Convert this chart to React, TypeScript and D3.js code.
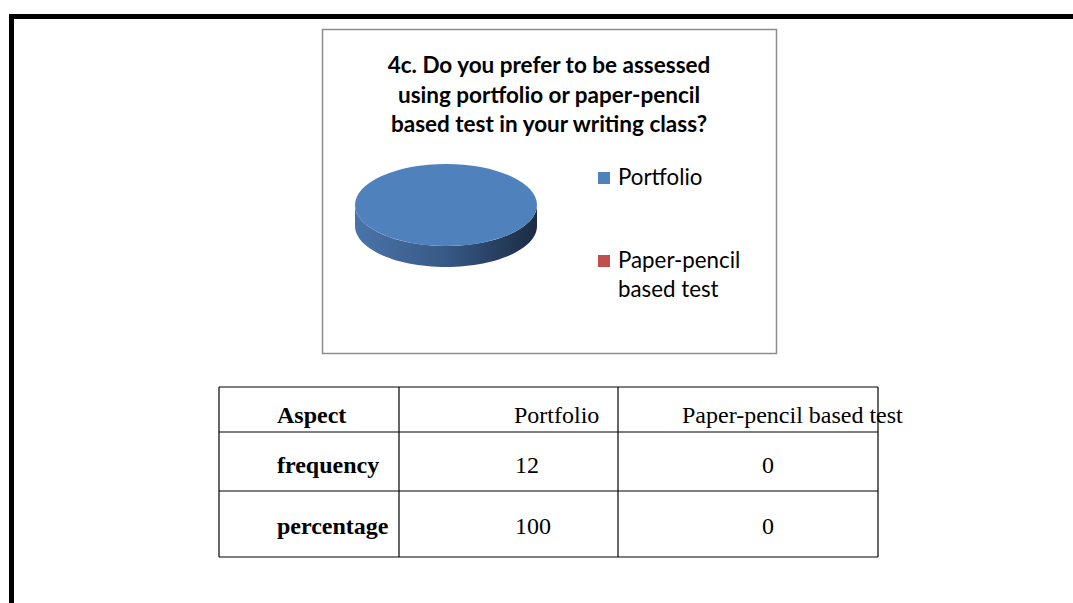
import React from "react";
import * as d3 from "d3";

const categories = ["Portfolio", "Paper-pencil based test"];
const frequency = [12, 0];
const percentage = [100, 0];
const titleLines = [
  "4c. Do you prefer to be assessed",
  "using portfolio or paper-pencil",
  "based test in your writing class?",
];
const legendLines = [["Portfolio"], ["Paper-pencil", "based test"]];
const tableHeader = ["Aspect", ...categories];
const tableRows = [
  ["frequency", ...frequency.map(String)],
  ["percentage", ...percentage.map(String)],
];

const colors = ["#4f81bd", "#c0504d"];

function Pie3D() {
  const cx = 446, cy = 205, rx = 91, ry = 41, depth = 21;
  const arcs = d3.pie<number>().sort(null)(frequency);
  const arcGen = d3.arc<d3.PieArcDatum<number>>().innerRadius(0).outerRadius(1);

  // only the front half of the rim is visible
  const pt = (a: number) => [cx + rx * Math.sin(a), cy - ry * Math.cos(a)];
  const sides = arcs.map((a, i) => {
    const s = Math.max(a.startAngle, Math.PI / 2);
    const e = Math.min(a.endAngle, (3 * Math.PI) / 2);
    if (e <= s) return null;
    const steps = 60;
    const top = d3.range(steps + 1).map((k) => pt(s + ((e - s) * k) / steps));
    const bottom = top.map(([x, y]) => [x, y + depth]).reverse();
    return { i, d: d3.line()([...top, ...bottom] as [number, number][]) + "Z" };
  });

  return (
    <g>
      <defs>
        <linearGradient id="side0" x1="0" x2="1" y1="0" y2="0">
          <stop offset="0" stopColor="#4a74a9" />
          <stop offset="0.5" stopColor="#375985" />
          <stop offset="1" stopColor="#1b2b44" />
        </linearGradient>
        <linearGradient id="side1" x1="0" x2="1" y1="0" y2="0">
          <stop offset="0" stopColor="#b04a47" />
          <stop offset="1" stopColor="#5e2322" />
        </linearGradient>
      </defs>
      {sides.map((s) =>
        s ? <path key={"s" + s.i} d={s.d} fill={`url(#side${s.i})`} /> : null
      )}
      {arcs.map((a, i) =>
        a.endAngle > a.startAngle ? (
          <path
            key={i}
            d={arcGen(a) || ""}
            transform={`translate(${cx},${cy}) scale(${rx},${ry})`}
            fill={colors[i]}
          />
        ) : null
      )}
    </g>
  );
}

export default function App() {
  const colEdges = [219, 399, 618, 878];
  const rowEdges = [387, 432, 491, 557];
  const textX = [277, 514, 682];
  const rowBase = [423, 473, 534];
  const cellAnchor = ["start", "start", "middle"];
  const cellX = [277, 515, 768];

  return (
    <svg
      width={1073}
      height={603}
      style={{ position: "fixed", left: 0, top: 0, background: "#fff" }}
    >
      <path d="M11.5,603 V16.5 H1073" fill="none" stroke="#000" strokeWidth={5} />
      <rect x={322.5} y={29.5} width={454} height={324} fill="#fff" stroke="#8c8c8c" strokeWidth={1.5} />
      {titleLines.map((t, i) => (
        <text
          key={i}
          x={549}
          y={73 + i * 29.5}
          textAnchor="middle"
          fontFamily="Lato, 'Open Sans', sans-serif"
          fontWeight="bold"
          fontSize={22.5}
          fill="#000"
        >
          {t}
        </text>
      ))}
      <Pie3D />
      {legendLines.map((lines, i) => {
        const y0 = [185, 268][i];
        return (
          <g key={i}>
            <rect x={598} y={y0 - 13} width={12} height={12} fill={colors[i]} />
            {lines.map((l, j) => (
              <text key={j} x={618} y={y0 + j * 29} fontFamily="Lato, sans-serif" fontSize={22.3} fill="#000">
                {l}
              </text>
            ))}
          </g>
        );
      })}
      <g stroke="#000" strokeWidth={1.2}>
        {colEdges.map((x) => (
          <line key={"c" + x} x1={x} x2={x} y1={387} y2={557} />
        ))}
        {rowEdges.map((y) => (
          <line key={"r" + y} x1={219} x2={878} y1={y} y2={y} />
        ))}
      </g>
      <g fontFamily="'Liberation Serif', 'Times New Roman', serif" fontSize={24} fill="#000">
        {tableHeader.map((h, i) => (
          <text key={h} x={textX[i]} y={rowBase[0]} fontWeight={i === 0 ? "bold" : "normal"}>
            {h}
          </text>
        ))}
        {tableRows.map((row, r) =>
          row.map((c, i) => (
            <text
              key={r + "-" + i}
              x={cellX[i]}
              y={rowBase[r + 1]}
              textAnchor={cellAnchor[i] as any}
              fontWeight={i === 0 ? "bold" : "normal"}
            >
              {c}
            </text>
          ))
        )}
      </g>
    </svg>
  );
}
